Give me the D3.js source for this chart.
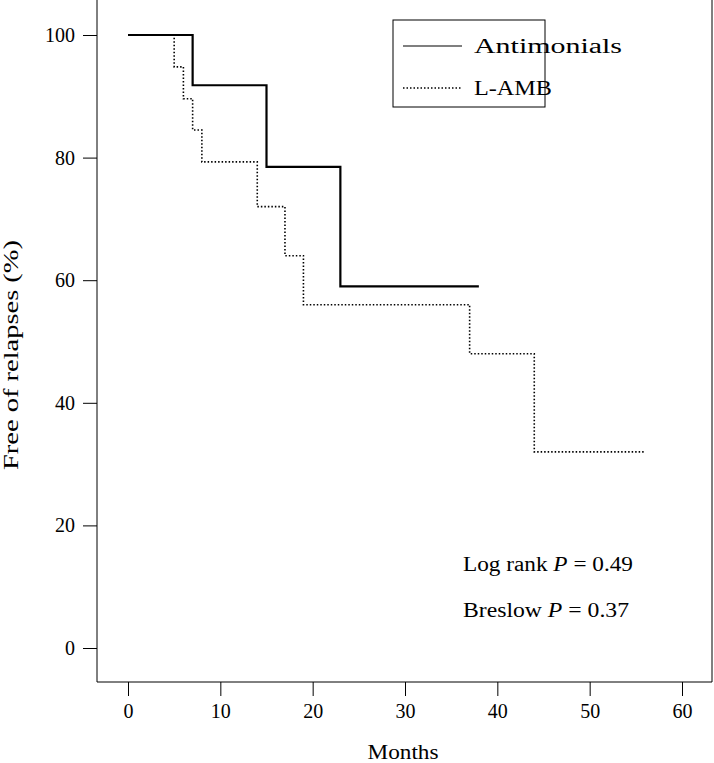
<!DOCTYPE html><html><head><script src="https://cdn.jsdelivr.net/npm/d3@7"></script>
<style>body{margin:0;background:#fff}</style></head><body><svg width="714" height="763"></svg>
<script>
const antiT=[0,7,15,23,38], antiS=[100,91.8,78.5,59,59];
const lambT=[0,5,6,7,8,14,17,19,37,44,56], lambS=[100,94.8,89.6,84.5,79.3,72,64,56,48,32,32];
const xTicks=[0,10,20,30,40,50,60], yTicks=[0,20,40,60,80,100];
const svg=d3.select("svg"), F="'Liberation Serif','Times New Roman',serif";
const x=d3.scaleLinear().domain([0,60]).range([128,682]);
const y=d3.scaleLinear().domain([0,100]).range([648,35]);
svg.append("line").attr("x1",97).attr("x2",97).attr("y1",0).attr("y2",682).attr("stroke","#000");
svg.append("line").attr("x1",97).attr("x2",712).attr("y1",682).attr("y2",682).attr("stroke","#000");
svg.append("line").attr("x1",712).attr("x2",712).attr("y1",0).attr("y2",682).attr("stroke","#000");
const ya=svg.append("g").attr("transform","translate(97,0)").call(d3.axisLeft(y).tickValues(yTicks).tickSize(14).tickPadding(8));
const xa=svg.append("g").attr("transform","translate(0,682)").call(d3.axisBottom(x).tickValues(xTicks).tickSize(14).tickPadding(8));
[ya,xa].forEach(a=>{a.select(".domain").remove();a.selectAll("text").attr("font-family",F).attr("font-size",20).attr("fill","#000");});
function T(x0,y0,len,anchor){return svg.append("text").attr("x",x0).attr("y",y0).attr("text-anchor",anchor||"start").attr("font-family",F).attr("font-size",20).attr("textLength",len).attr("lengthAdjust","spacingAndGlyphs");}
T(403,759,71,"middle").text("Months");
svg.append("text").attr("transform","translate(18,355) rotate(-90)").attr("text-anchor","middle").attr("font-family",F).attr("font-size",20).attr("textLength",230).attr("lengthAdjust","spacingAndGlyphs").text("Free of relapses (%)");
const line=d3.line().x(d=>x(d[0])).y(d=>y(d[1])).curve(d3.curveStepAfter);
svg.append("path").attr("d",line(lambT.map((t,i)=>[t,lambS[i]]))).attr("fill","none").attr("stroke","#000").attr("stroke-width",1.6).attr("stroke-dasharray","1.5,2");
svg.append("path").attr("d",line(antiT.map((t,i)=>[t,antiS[i]]))).attr("fill","none").attr("stroke","#000").attr("stroke-width",2.2);
svg.append("rect").attr("x",393).attr("y",20).attr("width",152).attr("height",87).attr("fill","#fff").attr("stroke","#000");
svg.append("line").attr("x1",403).attr("x2",462).attr("y1",46).attr("y2",46).attr("stroke","#000").attr("stroke-width",1.2);
svg.append("line").attr("x1",403).attr("x2",462).attr("y1",88).attr("y2",88).attr("stroke","#000").attr("stroke-width",1.4).attr("stroke-dasharray","1.5,2");
T(474,53,148).text("Antimonials");
T(474,95,78).text("L-AMB");
const t1=T(463,571,170);
t1.append("tspan").text("Log rank ");t1.append("tspan").attr("font-style","italic").text("P");t1.append("tspan").text(" = 0.49");
const t2=T(463,617,166);
t2.append("tspan").text("Breslow ");t2.append("tspan").attr("font-style","italic").text("P");t2.append("tspan").text(" = 0.37");
</script></body></html>
